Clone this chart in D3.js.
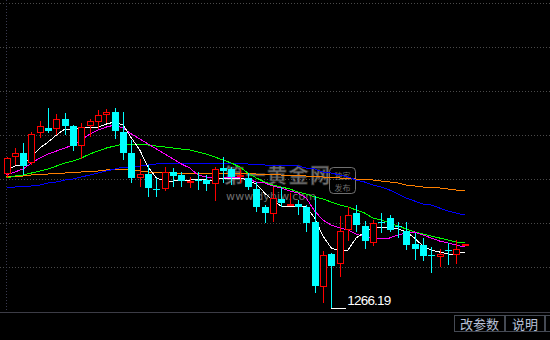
<!DOCTYPE html>
<html lang="zh">
<head>
    <meta charset="UTF-8">
    <title>K线</title>
    <style>
        html, body {
            margin: 0;
            padding: 0;
            background: #000;
            overflow: hidden;
        }
        #kline {
            display: block;
        }
    </style>
</head>
<body>
    <svg id="kline"></svg>

    <script src="https://d3js.org/d3.v7.min.js"></script>
    <script>
        // OHLC per candle
        const opens = [1333, 1341.5, 1343.5, 1338.5, 1353.5, 1356, 1355.5, 1360.5, 1357, 1347,
            1357, 1359, 1362.5, 1364, 1354, 1343.5, 1331, 1333, 1325.5, 1325.5,
            1334, 1332.5, 1329, 1330, 1330, 1328, 1336, 1335.5, 1332, 1331,
            1325.5, 1316.5, 1313, 1320.5, 1317.5, 1318, 1316.5, 1309, 1276.5, 1293,
            1288, 1305, 1313.5, 1307, 1298.5, 1309, 1311, 1307, 1304.5, 1298,
            1297.5, 1292.5, 1291.5, 1295, 1292.5, 1297.5]
        const highs = [1341.5, 1346, 1348.5, 1354, 1359.5, 1366, 1363, 1363.5, 1357.5, 1358.5,
            1360.5, 1365, 1365.5, 1366, 1364, 1350, 1340.5, 1337.5, 1331, 1336.5,
            1336, 1334, 1331.5, 1334, 1332.5, 1336.5, 1341.5, 1336.5, 1336, 1333.5,
            1329, 1317.5, 1326.5, 1326.5, 1323.5, 1320, 1317.5, 1322, 1294.5, 1293.5,
            1312, 1316.5, 1317.5, 1309.5, 1310, 1313.5, 1312.5, 1309, 1309, 1303.5,
            1301, 1296.5, 1295.5, 1298.5, 1300, 1298]
        const lows = [1331, 1337.5, 1332.5, 1337.5, 1351, 1353.5, 1352.5, 1352.5, 1344.5, 1340.5,
            1351.5, 1355.5, 1358.5, 1350.5, 1340, 1328.5, 1326.5, 1321.5, 1321.5, 1324.5,
            1326.5, 1326.5, 1326, 1325, 1324.5, 1319.5, 1328.5, 1327.5, 1328.5, 1325,
            1314, 1308.5, 1309, 1316.5, 1317, 1312.5, 1304, 1273.5, 1268.5, 1266.19,
            1281.5, 1299.5, 1304, 1295.5, 1297, 1303.5, 1304, 1301, 1295, 1290,
            1289.5, 1283.5, 1286.5, 1287.5, 1288, 1297]
        const closes = [1341, 1343.5, 1337, 1353, 1357, 1354.5, 1360.5, 1357, 1347, 1356.5,
            1359.5, 1362.5, 1364, 1354.5, 1343.5, 1331, 1333, 1326, 1325, 1334,
            1332, 1329.5, 1329.5, 1329.5, 1328, 1335.5, 1334.5, 1331.5, 1332.5, 1326.5,
            1316.5, 1313.5, 1321, 1318.5, 1318, 1316.5, 1308.5, 1277, 1292.5, 1287,
            1304.5, 1312.5, 1307.5, 1299.5, 1308.5, 1308.5, 1305, 1306.5, 1297.5, 1295.5,
            1292, 1292, 1293, 1294.5, 1295.5, 1298]

        // moving averages
        const ma5 = [1335, 1337, 1337.5, 1341.5, 1346, 1349, 1352.5, 1355.5, 1355.5, 1356,
            1356.5, 1356.5, 1358, 1359, 1357.5, 1351, 1345, 1336.5, 1331, 1329.5,
            1329.5, 1330, 1330, 1330.5, 1330, 1330, 1331, 1331, 1331, 1330,
            1328, 1323.5, 1319.5, 1317, 1316.5, 1317, 1316.5, 1311, 1302, 1296,
            1294.5, 1295, 1301, 1304, 1306, 1306.5, 1306, 1305.5, 1304, 1301,
            1297, 1295, 1294, 1293, 1293, 1294]
        const ma10 = [1332.5, 1334, 1335.5, 1338.5, 1341, 1343, 1344.5, 1346, 1347.5, 1350,
            1353, 1355, 1356.5, 1357.5, 1356, 1353, 1350.5, 1348, 1345.5, 1343,
            1340.5, 1338, 1336, 1332.5, 1331.5, 1331, 1331, 1331.5, 1331, 1330.5,
            1329, 1328.5, 1327, 1326, 1324.5, 1323.5, 1321, 1314.5, 1310, 1307.5,
            1306, 1305, 1303, 1301.5, 1301, 1300.5, 1301, 1302.5, 1303.5, 1304,
            1302.5, 1301, 1299.5, 1298.5, 1297.5, 1296.5]
        const ma20 = [1331, 1332, 1332.5, 1333.5, 1334.5, 1335.5, 1337, 1338.5, 1339.5, 1341,
            1343, 1344.5, 1346, 1347, 1348, 1348, 1348, 1347.5, 1347, 1346.5,
            1346, 1345.5, 1345, 1344, 1343, 1341.5, 1340, 1338.5, 1336.5, 1333.5,
            1331, 1329, 1327.5, 1326.5, 1325.5, 1324, 1323, 1321.5, 1320.5, 1319,
            1317.5, 1316.5, 1315, 1313.5, 1311, 1310, 1308.5, 1307, 1305.5, 1304,
            1303, 1302, 1301, 1300, 1299, 1298.5]
        const ma60 = [1326.5, 1326.5, 1327, 1327, 1327.5, 1328.5, 1329, 1330, 1330.5, 1331.5,
            1332.5, 1333.5, 1334.5, 1335.5, 1336.5, 1336.5, 1337, 1337.5, 1338, 1338.5,
            1338.5, 1338.5, 1338.5, 1338.5, 1338.5, 1338.5, 1338.5, 1338.5, 1338.5, 1338,
            1338, 1337.5, 1337.5, 1337.5, 1337.5, 1337, 1336, 1335.5, 1334, 1333.5,
            1332.5, 1331.5, 1330, 1329, 1327.5, 1326.5, 1325, 1323, 1321, 1319.5,
            1318, 1317.5, 1316, 1314.5, 1313.5, 1312.5]
        const ma120 = [1331.5, 1332, 1332, 1332.5, 1333, 1333, 1333.5, 1333.5, 1334, 1334,
            1334.5, 1334.5, 1335, 1335.5, 1335.5, 1335, 1334.5, 1334, 1334, 1334,
            1333.5, 1333.5, 1333.5, 1333.5, 1333.5, 1333.5, 1333.5, 1333.5, 1333.5, 1333.5,
            1333, 1333, 1333, 1332.5, 1332.5, 1332.5, 1332, 1332, 1331.5, 1331.5,
            1331, 1331, 1330.5, 1330.5, 1330, 1329.5, 1329, 1328.5, 1327.5, 1327,
            1326.5, 1326.5, 1326, 1325.5, 1325, 1324.5]

        const maLines = [
            { values: ma120, color: '#ff8000' },
            { values: ma60, color: '#0000ff' },
            { values: ma20, color: '#00ff00' },
            { values: ma10, color: '#ff00ff' },
            { values: ma5, color: '#ffffff' }
        ]
        const buttons = ['改参数', '说明']

        const width = 550
        const height = 340
        const upColor = '#ff0000'
        const downColor = '#00ffff'
        const gridColor = '#4a4a4a'
        const candleWidth = 6

        const svg = d3.select('#kline')
            .attr('width', width)
            .attr('height', height)

        svg.append('rect')
            .attr('width', width)
            .attr('height', height)
            .attr('fill', '#000')

        const x = d3.scaleLinear()
            .domain([0, opens.length - 1])
            .range([6.5, 464.5])
        const y = d3.scaleLinear()
            .domain([1264.5, 1418.5])
            .range([311, 3])

        // dotted grid
        const grid = svg.append('g')
            .attr('stroke', gridColor)
            .attr('stroke-dasharray', '1,2')
            .attr('shape-rendering', 'crispEdges')
        d3.range(1418.5, 1265, -22).forEach(p => {
            grid.append('line')
                .attr('x1', 0).attr('x2', width)
                .attr('y1', Math.round(y(p)) + 0.5).attr('y2', Math.round(y(p)) + 0.5)
        })
        grid.append('line')
            .attr('x1', 6.5).attr('x2', 6.5)
            .attr('y1', 0).attr('y2', 311)
            .attr('stroke', '#3a3a50')

        // watermark
        const wmFill = 'rgba(150,150,150,0.75)'
        const wm = svg.append('g')
            .attr('font-family', '"Noto Sans CJK SC", sans-serif')
        wm.append('text')
            .attr('x', 224).attr('y', 183)
            .attr('font-size', 20)
            .attr('font-weight', 'bold')
            .attr('fill', wmFill)
            .attr('stroke', 'rgba(40,40,40,0.8)')
            .attr('stroke-width', 0.8)
            .attr('textLength', 106)
            .text('第一黄金网')
        wm.append('text')
            .attr('x', 226).attr('y', 200)
            .attr('font-size', 11)
            .attr('font-family', '"DejaVu Sans", sans-serif')
            .attr('fill', wmFill)
            .attr('textLength', 90)
            .text('www.dyhjw.com')
        wm.append('rect')
            .attr('x', 329.5).attr('y', 167.5)
            .attr('width', 26).attr('height', 26)
            .attr('rx', 4)
            .attr('fill', 'none')
            .attr('stroke', wmFill)
        wm.append('text')
            .attr('x', 342.5).attr('y', 179)
            .attr('text-anchor', 'middle')
            .attr('font-size', 8)
            .attr('fill', wmFill)
            .text('独家')
        wm.append('text')
            .attr('x', 342.5).attr('y', 191)
            .attr('text-anchor', 'middle')
            .attr('font-size', 8)
            .attr('fill', wmFill)
            .text('发布')

        // moving average lines
        const line = d3.line()
            .x((d, i) => x(i))
            .y(d => y(d))
        svg.append('g')
            .attr('class', 'ma')
            .selectAll('path')
            .data(maLines)
            .join('path')
            .attr('d', d => line(d.values))
            .attr('fill', 'none')
            .attr('stroke', d => d.color)
            .attr('stroke-width', 1)
            .attr('shape-rendering', 'crispEdges')

        // candles
        const candles = svg.append('g')
            .attr('class', 'candles')
            .attr('shape-rendering', 'crispEdges')
            .selectAll('g')
            .data(opens.map((o, i) => ({ i, o, h: highs[i], l: lows[i], c: closes[i] })))
            .join('g')

        candles.each(function (d) {
            const g = d3.select(this)
            const cx = Math.round(x(d.i))
            const top = Math.round(y(Math.max(d.o, d.c)))
            const bottom = Math.max(Math.round(y(Math.min(d.o, d.c))), top + 1)
            if (d.c > d.o) {
                g.append('line')
                    .attr('x1', cx + 0.5).attr('x2', cx + 0.5)
                    .attr('y1', y(d.h)).attr('y2', top)
                    .attr('stroke', upColor)
                g.append('line')
                    .attr('x1', cx + 0.5).attr('x2', cx + 0.5)
                    .attr('y1', bottom).attr('y2', y(d.l))
                    .attr('stroke', upColor)
                g.append('rect')
                    .attr('x', cx - candleWidth / 2 + 0.5)
                    .attr('y', top + 0.5)
                    .attr('width', candleWidth)
                    .attr('height', Math.max(bottom - top - 1, 1))
                    .attr('fill', '#000')
                    .attr('stroke', upColor)
            } else {
                g.append('line')
                    .attr('x1', cx + 0.5).attr('x2', cx + 0.5)
                    .attr('y1', y(d.h)).attr('y2', y(d.l))
                    .attr('stroke', downColor)
                g.append('rect')
                    .attr('x', cx - candleWidth / 2)
                    .attr('y', top)
                    .attr('width', candleWidth + 1)
                    .attr('height', bottom - top)
                    .attr('fill', downColor)
            }
        })

        // lowest price marker
        const lowIdx = d3.minIndex(lows)
        const lowY = Math.round(y(lows[lowIdx])) + 0.5
        svg.append('line')
            .attr('x1', x(lowIdx)).attr('x2', x(lowIdx) + 15)
            .attr('y1', lowY).attr('y2', lowY)
            .attr('stroke', '#fff')
            .attr('shape-rendering', 'crispEdges')
        svg.append('text')
            .attr('x', x(lowIdx) + 16)
            .attr('y', lowY - 4)
            .attr('fill', '#fff')
            .attr('font-family', '"Liberation Sans", Arial, sans-serif')
            .attr('font-size', 13.5)
            .attr('textLength', 44)
            .text(lows[lowIdx].toFixed(2))

        // bottom bar with buttons
        svg.append('line')
            .attr('x1', 0).attr('x2', width)
            .attr('y1', 312.5).attr('y2', 312.5)
            .attr('stroke', '#3c3c46')
        const btnX = [454, 505, 545]
        const btnW = [50, 39, 10]
        btnX.forEach((bx, i) => {
            svg.append('rect')
                .attr('x', bx + 0.5).attr('y', 315.5)
                .attr('width', btnW[i]).attr('height', 16)
                .attr('fill', '#000')
                .attr('stroke', '#454a54')
            if (buttons[i]) {
                svg.append('text')
                    .attr('x', bx + btnW[i] / 2 + 0.5)
                    .attr('y', 328.5)
                    .attr('text-anchor', 'middle')
                    .attr('fill', '#b8c0d8')
                    .attr('font-family', '"Noto Sans CJK SC", sans-serif')
                    .attr('font-size', 13)
                    .text(buttons[i])
            }
        })
    </script>
</body>
</html>
